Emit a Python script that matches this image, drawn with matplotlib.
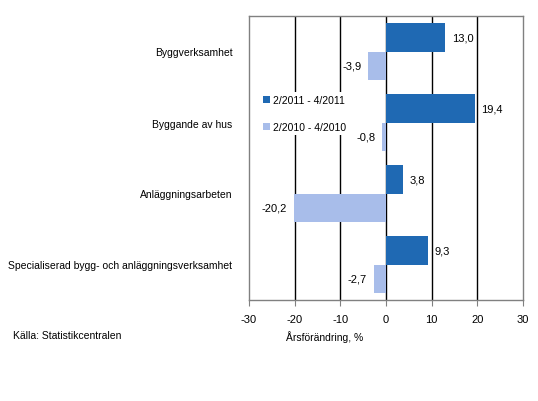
import matplotlib
matplotlib.use("Agg")
import matplotlib.pyplot as plt
import numpy as np

categories = ["Byggverksamhet", "Byggande av hus", "Anläggningsarbeten",
              "Specialiserad bygg- och anläggningsverksamhet"]
series_2011 = [13.0, 19.4, 3.8, 9.3]
series_2010 = [-3.9, -0.8, -20.2, -2.7]
label_2011 = "2/2011 - 4/2011"
label_2010 = "2/2010 - 4/2010"
xticks = [-30, -20, -10, 0, 10, 20, 30]

plt.rcParams['font.family'] = ['Liberation Sans', 'DejaVu Sans']
W, H = 538, 402
fig = plt.figure(figsize=(W/100, H/100), dpi=100)
ax = fig.add_axes([249/W, 1-301/H, (523-249)/W, (301-17)/H])

dark = "#1F69B3"
light = "#A8BDEA"
y = np.arange(len(categories))
bh = 0.395
b1 = ax.barh(y - bh/2, series_2011, height=bh, color=dark, label=label_2011, zorder=3)
b2 = ax.barh(y + bh/2, series_2010, height=bh, color=light, label=label_2010, zorder=3)

fs = 7.5
vfs = 8
for bars, vals in ((b1, series_2011), (b2, series_2010)):
    for rect, v in zip(bars, vals):
        yc = rect.get_y() + rect.get_height()/2
        txt = f"{v:.1f}".replace(".", ",")
        if v >= 0:
            ax.annotate(txt, (v, yc), xytext=(4.5, 0), textcoords="offset points",
                        ha="left", va="center", fontsize=vfs)
        else:
            ax.annotate(txt, (v, yc), xytext=(-5, 0), textcoords="offset points",
                        ha="right", va="center", fontsize=vfs)

ax.set_xlim(-30, 30)
ax.set_ylim(len(categories) - 0.5, -0.5)
ax.set_xticks(xticks)
ax.set_xticklabels([str(t) for t in xticks], fontsize=vfs)
ax.set_yticks(y)
ax.set_yticklabels(categories, fontsize=fs)
ax.tick_params(axis='y', length=0, pad=12)
ax.tick_params(axis='x', length=4, color="#808080", pad=6)
for t in [-20, -10, 0, 10, 20]:
    ax.axvline(t, color="black", lw=1, zorder=1)
for s in ax.spines.values():
    s.set_color("#808080")
    s.set_linewidth(1)

leg = ax.legend(loc="upper left", bbox_to_anchor=(0.02, 0.75), frameon=True,
                fontsize=fs, handlelength=0.7, handleheight=0.7, handletextpad=0.3,
                labelspacing=1.6, borderpad=0.3, fancybox=False)
leg.get_frame().set_edgecolor("none")
leg.get_frame().set_facecolor("white")
leg.get_frame().set_alpha(1)
leg.set_zorder(5)

fig.text(286/W, 1-337/H, "Årsförändring, %", fontsize=fs, ha="left", va="center")
fig.text(13/W, 1-336/H, "Källa: Statistikcentralen", fontsize=fs, ha="left", va="center")

fig.savefig("out.png", dpi=100)
